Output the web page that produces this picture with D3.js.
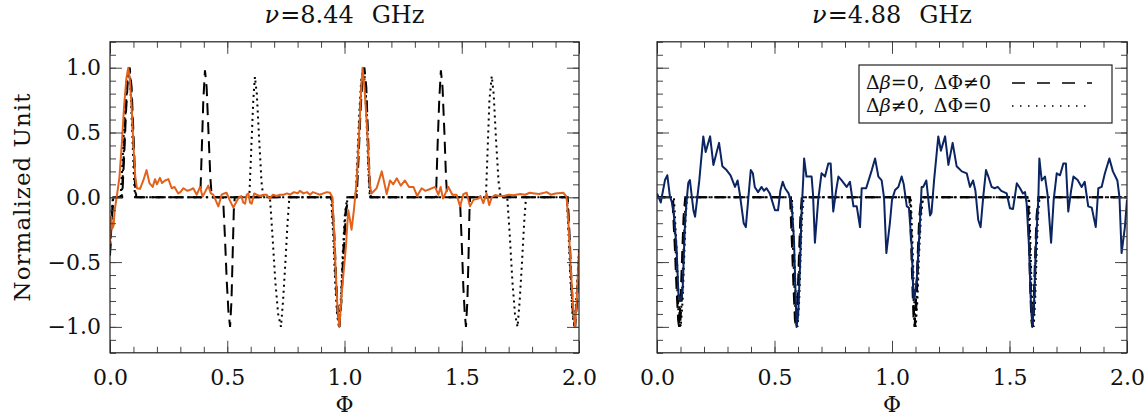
<!DOCTYPE html>
<html><head><meta charset="utf-8">
<script src="https://cdn.jsdelivr.net/npm/d3@7"></script>
<style>body{margin:0;background:#fff}svg{display:block}text{font-family:"DejaVu Serif","Liberation Serif",serif;fill:#111}</style>
</head><body><svg id="c" width="1148" height="416"></svg>
<script>
// ---------- data ----------
const xTicks = [0.0, 0.5, 1.0, 1.5, 2.0];
const yTicks = [-1.0, -0.5, 0.0, 0.5, 1.0];
const titles = ["8.44", "4.88"];

// left panel (8.44 GHz): observed profile
const obsLeft = [[0,-0.36],[0.005,-0.15],[0.01,-0.24],[0.015,-0.22],[0.02,-0.1],[0.03,0.02],[0.04,0.15],[0.05,0.4],[0.06,0.7],[0.07,0.92],[0.078,1.0],[0.085,0.9],[0.092,0.7],[0.1,0.4],[0.108,0.15],[0.115,0.07],[0.128,0.065],[0.142,0.13],[0.156,0.21],[0.168,0.11],[0.182,0.08],[0.192,0.14],[0.2,0.1],[0.213,0.15],[0.222,0.11],[0.235,0.13],[0.249,0.14],[0.263,0.07],[0.275,0.08],[0.291,0.03],[0.3,0.04],[0.313,0.07],[0.33,0.05],[0.345,0.06],[0.355,0.07],[0.37,0.02],[0.384,0.08],[0.395,0.005],[0.405,0.04],[0.419,0.09],[0.43,0.03],[0.44,0.02],[0.45,-0.02],[0.462,-0.07],[0.476,0.02],[0.487,0.03],[0.497,0.035],[0.51,-0.02],[0.526,-0.08],[0.54,-0.03],[0.55,0.0],[0.56,0.01],[0.568,-0.04],[0.576,-0.05],[0.583,0.02],[0.59,0.03],[0.597,-0.04],[0.604,-0.05],[0.615,0.03],[0.625,0.02],[0.64,0.01],[0.655,0.02],[0.668,0.02],[0.68,-0.01],[0.695,0.02],[0.711,0.01],[0.725,0.02],[0.74,0.02],[0.755,0.03],[0.768,0.02],[0.785,0.04],[0.8,0.03],[0.81,0.05],[0.825,0.03],[0.84,0.04],[0.853,0.02],[0.865,0.04],[0.88,0.03],[0.895,0.02],[0.91,0.03],[0.925,0.04],[0.938,0.035],[0.948,0.0],[0.955,-0.25],[0.962,-0.55],[0.97,-0.85],[0.978,-1.0],[0.984,-0.85],[0.99,-0.7],[1.0,-0.5],[1.006,-0.38],[1.016,-0.1],[1.024,-0.18],[1.03,-0.25],[1.04,-0.1],[1.052,0.13],[1.06,0.4],[1.07,0.8],[1.077,1.0],[1.085,0.85],[1.095,0.57],[1.109,0.08],[1.116,0.03],[1.137,0.07],[1.159,0.2],[1.18,0.025],[1.194,0.13],[1.208,0.1],[1.223,0.147],[1.24,0.09],[1.258,0.13],[1.275,0.08],[1.294,0.08],[1.31,0.01],[1.329,0.07],[1.345,0.05],[1.36,0.06],[1.386,0.08],[1.4,0.02],[1.41,0.08],[1.42,-0.01],[1.443,0.08],[1.46,0.02],[1.478,0.02],[1.493,-0.07],[1.507,0.025],[1.521,0.035],[1.535,-0.07],[1.55,-0.02],[1.571,-0.01],[1.58,0.01],[1.592,-0.045],[1.606,0.03],[1.617,-0.06],[1.628,0.0],[1.642,0.018],[1.66,0.01],[1.68,0.01],[1.7,0.02],[1.72,0.015],[1.75,0.025],[1.77,0.02],[1.79,0.035],[1.81,0.03],[1.83,0.025],[1.862,0.04],[1.88,0.02],[1.9,0.03],[1.933,0.035],[1.947,0.005],[1.955,-0.2],[1.965,-0.55],[1.975,-0.85],[1.983,-1.0],[1.99,-0.8],[2.0,-0.42]];

// left panel models
const dashDotLeft = [[0,-0.42],[0.006,-0.2],[0.014,0],[0.05,0],[0.058,0.3],[0.066,0.65],[0.074,0.9],[0.082,1.0],[0.09,0.85],[0.098,0.5],[0.105,0.15],[0.11,0],[0.945,0],[0.955,-0.3],[0.963,-0.65],[0.971,-0.9],[0.978,-1.0],[0.986,-0.8],[0.994,-0.45],[1.004,-0.12],[1.014,0],[1.05,0],[1.058,0.3],[1.066,0.65],[1.074,0.9],[1.082,1.0],[1.09,0.85],[1.098,0.5],[1.105,0.15],[1.11,0],[1.95,0],[1.958,-0.3],[1.966,-0.65],[1.974,-0.9],[1.982,-1.0],[1.99,-0.8],[2.0,-0.45]];
const dashedLeft = [[0,-0.45],[0.006,-0.22],[0.014,0],[0.052,0],[0.06,0.3],[0.068,0.65],[0.076,0.9],[0.084,1.0],[0.092,0.85],[0.1,0.5],[0.107,0.15],[0.112,0],[0.385,0],[0.392,0.4],[0.398,0.75],[0.405,0.98],[0.412,0.85],[0.42,0.5],[0.428,0.15],[0.434,0],[0.482,0],[0.49,-0.3],[0.498,-0.65],[0.505,-0.88],[0.512,-1.0],[0.518,-0.8],[0.523,-0.45],[0.528,-0.1],[0.532,0],[0.947,0],[0.957,-0.3],[0.965,-0.65],[0.972,-0.9],[0.978,-1.0],[0.987,-0.8],[0.996,-0.45],[1.006,-0.12],[1.016,0],[1.052,0],[1.06,0.3],[1.068,0.65],[1.076,0.9],[1.085,1.0],[1.093,0.85],[1.1,0.5],[1.107,0.15],[1.112,0],[1.39,0],[1.397,0.4],[1.404,0.75],[1.411,0.98],[1.418,0.85],[1.426,0.5],[1.433,0.15],[1.438,0],[1.492,0],[1.5,-0.35],[1.507,-0.7],[1.513,-0.9],[1.518,-1.0],[1.524,-0.8],[1.529,-0.45],[1.533,-0.1],[1.536,0],[1.952,0],[1.96,-0.3],[1.968,-0.65],[1.976,-0.9],[1.984,-1.0],[1.992,-0.8],[2.0,-0.5]];
const dottedLeft = [[0,-0.4],[0.005,-0.2],[0.012,0],[0.045,0],[0.054,0.3],[0.062,0.65],[0.07,0.9],[0.079,1.0],[0.087,0.85],[0.095,0.5],[0.102,0.15],[0.107,0],[0.594,0],[0.603,0.4],[0.611,0.75],[0.618,0.93],[0.626,0.8],[0.636,0.45],[0.646,0.12],[0.654,0],[0.682,0],[0.693,-0.3],[0.705,-0.65],[0.717,-0.9],[0.729,-1.0],[0.738,-0.8],[0.748,-0.5],[0.757,-0.2],[0.765,0],[0.943,0],[0.952,-0.3],[0.96,-0.65],[0.968,-0.9],[0.976,-1.0],[0.984,-0.8],[0.992,-0.45],[1.002,-0.12],[1.012,0],[1.047,0],[1.055,0.3],[1.063,0.65],[1.071,0.9],[1.08,1.0],[1.088,0.85],[1.096,0.5],[1.103,0.15],[1.108,0],[1.603,0],[1.611,0.4],[1.618,0.75],[1.628,0.935],[1.636,0.8],[1.646,0.45],[1.657,0.12],[1.666,0],[1.694,0],[1.705,-0.3],[1.716,-0.65],[1.727,-0.9],[1.738,-1.0],[1.747,-0.8],[1.757,-0.5],[1.766,-0.2],[1.774,0],[1.948,0],[1.956,-0.3],[1.964,-0.65],[1.972,-0.9],[1.98,-1.0],[1.988,-0.8],[2.0,-0.4]];

// right panel (4.88 GHz): observed profile
const obsRight = [[0,0.03],[0.016,-0.04],[0.034,0.133],[0.044,0.17],[0.055,0.005],[0.062,-0.03],[0.07,-0.1],[0.083,-0.38],[0.091,-0.74],[0.1,-0.8],[0.109,-0.72],[0.118,-0.25],[0.125,-0.05],[0.133,0.11],[0.14,0.133],[0.155,-0.1],[0.162,-0.15],[0.172,0.005],[0.18,0.13],[0.197,0.47],[0.207,0.35],[0.226,0.47],[0.24,0.25],[0.264,0.42],[0.278,0.24],[0.296,0.21],[0.313,0.17],[0.332,0.08],[0.343,0.13],[0.352,0.03],[0.369,-0.2],[0.378,-0.23],[0.388,-0.02],[0.399,0.21],[0.408,0.185],[0.416,0.08],[0.43,0.04],[0.445,0.08],[0.455,0.05],[0.466,0.07],[0.48,0.03],[0.502,-0.1],[0.515,-0.1],[0.525,0.05],[0.535,0.12],[0.545,0.07],[0.56,0.03],[0.573,-0.05],[0.583,-0.33],[0.59,-0.77],[0.594,-1.0],[0.601,-0.9],[0.609,-0.51],[0.615,-0.12],[0.622,0.13],[0.626,0.3],[0.636,0.16],[0.647,0.16],[0.658,0.16],[0.664,0.02],[0.672,-0.35],[0.686,-0.02],[0.7,0.185],[0.715,0.16],[0.729,0.26],[0.739,0.26],[0.75,-0.11],[0.762,0.05],[0.772,0.16],[0.785,0.133],[0.807,0.08],[0.821,0.12],[0.836,-0.07],[0.85,-0.07],[0.864,-0.23],[0.871,0.07],[0.89,0.07],[0.914,0.21],[0.928,0.3],[0.942,0.16],[0.956,0.13],[0.966,0.0],[0.976,-0.43],[0.991,-0.2],[1.0,-0.02],[1.013,0.056],[1.027,0.08],[1.041,0.16],[1.05,0.1],[1.063,-0.07],[1.072,-0.08],[1.084,-0.38],[1.091,-0.77],[1.095,-0.79],[1.105,-0.64],[1.116,-0.3],[1.126,0.08],[1.133,0.08],[1.146,0.13],[1.162,-0.14],[1.168,-0.12],[1.179,0.13],[1.197,0.47],[1.208,0.36],[1.226,0.47],[1.24,0.25],[1.258,0.42],[1.275,0.24],[1.297,0.2],[1.318,0.185],[1.332,0.08],[1.345,0.13],[1.355,0.05],[1.367,-0.175],[1.377,-0.23],[1.388,0.0],[1.4,0.21],[1.41,0.16],[1.424,0.08],[1.437,0.07],[1.45,0.08],[1.465,0.05],[1.488,0.03],[1.502,-0.085],[1.515,-0.09],[1.531,0.108],[1.545,0.07],[1.557,0.03],[1.566,0.04],[1.573,-0.05],[1.583,-0.38],[1.59,-0.77],[1.597,-1.0],[1.604,-0.84],[1.612,-0.38],[1.623,0.005],[1.627,0.3],[1.637,0.13],[1.651,0.16],[1.662,0.02],[1.677,-0.35],[1.688,-0.02],[1.701,0.185],[1.715,0.17],[1.729,0.26],[1.74,0.26],[1.75,-0.11],[1.762,0.05],[1.772,0.16],[1.79,0.133],[1.807,0.08],[1.82,0.12],[1.835,-0.07],[1.85,-0.08],[1.867,-0.23],[1.878,0.07],[1.892,0.08],[1.906,0.185],[1.925,0.3],[1.94,0.2],[1.959,0.13],[1.968,0.0],[1.977,-0.43],[1.991,-0.23],[2.0,-0.02]];

// right panel models
const dashDotRight = [[0,0],[0.068,0],[0.078,-0.35],[0.086,-0.7],[0.093,-0.95],[0.098,-1.0],[0.105,-0.8],[0.112,-0.45],[0.118,-0.15],[0.124,0],[0.57,0],[0.578,-0.35],[0.585,-0.7],[0.591,-0.95],[0.595,-1.0],[0.601,-0.8],[0.607,-0.45],[0.613,-0.15],[0.62,0],[1.077,0],[1.084,-0.35],[1.09,-0.7],[1.095,-0.95],[1.098,-1.0],[1.105,-0.8],[1.112,-0.45],[1.12,-0.15],[1.13,0],[1.58,0],[1.586,-0.35],[1.591,-0.7],[1.596,-0.95],[1.6,-1.0],[1.606,-0.8],[1.612,-0.45],[1.618,-0.15],[1.625,0],[2.0,0]];
const dashedRight = [[0,0],[0.065,0],[0.075,-0.35],[0.083,-0.7],[0.09,-0.95],[0.094,-1.0],[0.1,-0.8],[0.107,-0.45],[0.113,-0.15],[0.12,0],[0.566,0],[0.574,-0.35],[0.581,-0.7],[0.587,-0.95],[0.592,-1.0],[0.598,-0.8],[0.604,-0.45],[0.61,-0.15],[0.616,0],[1.074,0],[1.081,-0.35],[1.087,-0.7],[1.092,-0.95],[1.096,-1.0],[1.102,-0.8],[1.109,-0.45],[1.116,-0.15],[1.125,0],[1.577,0],[1.583,-0.35],[1.588,-0.7],[1.593,-0.95],[1.597,-1.0],[1.603,-0.8],[1.609,-0.45],[1.615,-0.15],[1.622,0],[2.0,0]];
const dottedRight = [[0,0],[0.072,0],[0.082,-0.35],[0.09,-0.7],[0.097,-0.95],[0.101,-1.0],[0.109,-0.8],[0.116,-0.45],[0.122,-0.15],[0.128,0],[0.574,0],[0.582,-0.35],[0.589,-0.7],[0.595,-0.95],[0.598,-1.0],[0.605,-0.8],[0.611,-0.45],[0.617,-0.15],[0.624,0],[1.08,0],[1.087,-0.35],[1.093,-0.7],[1.098,-0.95],[1.101,-1.0],[1.108,-0.8],[1.115,-0.45],[1.123,-0.15],[1.133,0],[1.583,0],[1.589,-0.35],[1.594,-0.7],[1.599,-0.95],[1.603,-1.0],[1.609,-0.8],[1.615,-0.45],[1.621,-0.15],[1.628,0],[2.0,0]];

const legendLabels = [["=0","≠0"],["≠0","=0"]];

// ---------- drawing ----------
const svg = d3.select("#c");
const yTop = 41.8, yBot = 352.8;
const panels = [
  {x0:110, x1:579, obs:obsLeft, color:"#e2621b", dd:dashDotLeft, da:dashedLeft, dt:dottedLeft, ylab:true},
  {x0:657, x1:1127, obs:obsRight, color:"#0b2562", dd:dashDotRight, da:dashedRight, dt:dottedRight, ylab:false}
];
const FS = 22;

panels.forEach((p, i) => {
  const x = d3.scaleLinear().domain([0, 2]).range([p.x0, p.x1]);
  const y = d3.scaleLinear().domain([-1.2, 1.2]).range([yBot, yTop]);
  const g = svg.append("g");
  const clipId = "clip" + i;
  svg.append("clipPath").attr("id", clipId).append("rect")
    .attr("x", p.x0).attr("y", yTop).attr("width", p.x1 - p.x0).attr("height", yBot - yTop);

  const line = d3.line().x(d => x(d[0])).y(d => y(d[1]));
  const lines = g.append("g").attr("clip-path", `url(#${clipId})`);
  lines.append("path").attr("d", line(p.dd)).attr("fill","none").attr("stroke","#000").attr("stroke-width",2).attr("stroke-dasharray","9,4,2,4");
  lines.append("path").attr("d", line(p.da)).attr("fill","none").attr("stroke","#000").attr("stroke-width",2).attr("stroke-dasharray","12,7");
  lines.append("path").attr("d", line(p.dt)).attr("fill","none").attr("stroke","#000").attr("stroke-width",2).attr("stroke-dasharray","2,4");
  lines.append("path").attr("d", line(p.obs)).attr("fill","none").attr("stroke",p.color).attr("stroke-width",2).attr("stroke-linejoin","round");

  // axes
  const minorX = d3.range(0, 2.0001, 0.1);
  const minorY = d3.range(-1.2, 1.2001, 0.1);
  const ax = (gen, tr) => g.append("g").attr("transform", tr).call(gen)
     .call(s => s.select(".domain").remove())
     .call(s => s.selectAll("line").attr("stroke","#444"));
  ax(d3.axisBottom(x).tickValues(minorX).tickSize(-6).tickFormat(""), `translate(0,${yBot})`);
  ax(d3.axisTop(x).tickValues(minorX).tickSize(-6).tickFormat(""), `translate(0,${yTop})`);
  ax(d3.axisLeft(y).tickValues(minorY).tickSize(-6).tickFormat(""), `translate(${p.x0},0)`);
  ax(d3.axisRight(y).tickValues(minorY).tickSize(-6).tickFormat(""), `translate(${p.x1},0)`);
  const bx = ax(d3.axisBottom(x).tickValues(xTicks).tickSize(-12).tickPadding(17).tickFormat(d3.format(".1f")), `translate(0,${yBot})`);
  bx.selectAll("text").attr("font-size", FS).attr("font-family", '"DejaVu Serif",serif').attr("fill","#111");
  ax(d3.axisTop(x).tickValues(xTicks).tickSize(-12).tickFormat(""), `translate(0,${yTop})`);
  const ly = ax(d3.axisLeft(y).tickValues(yTicks).tickSize(-12).tickPadding(9).tickFormat(p.ylab ? d3.format(".1f") : ""), `translate(${p.x0},0)`);
  ly.selectAll("text").attr("font-size", FS).attr("font-family", '"DejaVu Serif",serif').attr("fill","#111");
  ax(d3.axisRight(y).tickValues(yTicks).tickSize(-12).tickFormat(""), `translate(${p.x1},0)`);

  g.append("rect").attr("x", p.x0).attr("y", yTop).attr("width", p.x1 - p.x0).attr("height", yBot - yTop)
    .attr("fill","none").attr("stroke","#222").attr("stroke-width",1.2);

  // title
  const cx = (p.x0 + p.x1) / 2;
  const t = g.append("text").attr("x", cx).attr("y", 23).attr("text-anchor","middle").attr("font-size", 24);
  t.append("tspan").attr("font-style","italic").text("ν");
  t.append("tspan").attr("dx", 1).text("=" + titles[i]);
  t.append("tspan").attr("dx", 18).text("GHz");
  // x label
  g.append("text").attr("x", cx).attr("y", 412).attr("text-anchor","middle").attr("font-size", FS).text("Φ");
});

// y label
svg.append("text").attr("transform","translate(30,197) rotate(-90)").attr("text-anchor","middle").attr("font-size",23).attr("letter-spacing",1).text("Normalized Unit");

// legend
const lg = svg.append("g");
lg.append("rect").attr("x",859).attr("y",65).attr("width",253).attr("height",58).attr("fill","#fff").attr("stroke","#222").attr("stroke-width",1.2);
legendLabels.forEach((lab, k) => {
  const yy = 89 + k * 23;
  const t = lg.append("text").attr("x", 866).attr("y", yy).attr("font-size", 19);
  t.append("tspan").text("Δ");
  t.append("tspan").attr("font-style","italic").text("β");
  t.append("tspan").text(lab[0] + ",");
  t.append("tspan").attr("dx", 9).text("ΔΦ" + lab[1]);
  lg.append("line").attr("x1",1012).attr("x2",1092).attr("y1",yy-6).attr("y2",yy-6)
    .attr("stroke","#000").attr("stroke-width",1.3).attr("stroke-dasharray", k === 0 ? "13,12" : "1.5,6.5");
});
</script></body></html>
